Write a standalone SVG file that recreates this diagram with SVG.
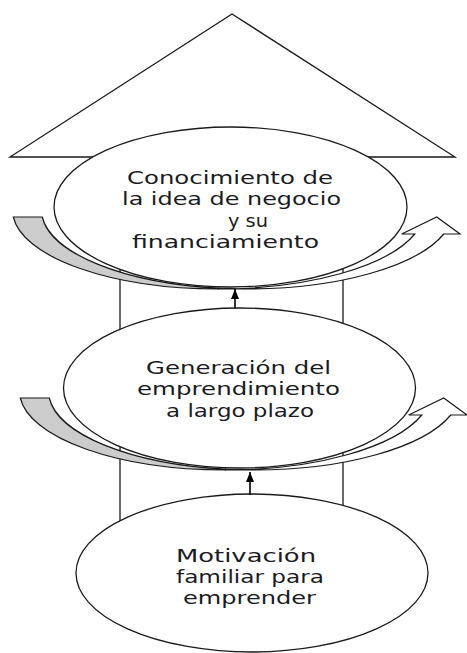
<svg xmlns="http://www.w3.org/2000/svg" width="467" height="653" viewBox="0 0 467 653">
  <defs>
    <style>
      .outline { fill: #ffffff; stroke: #1a1a1a; stroke-width: 1.3; }
      .node ellipse { fill: #ffffff; stroke: #1a1a1a; stroke-width: 1.3; }
      .dark { fill: #cccccc; stroke: #1a1a1a; stroke-width: 1.2; stroke-linejoin: miter; }
      .light { fill: #ffffff; stroke: #1a1a1a; stroke-width: 1.2; stroke-linejoin: miter; }
      .lbl { font-family: "DejaVu Sans", "Liberation Sans", sans-serif; font-size: 17.8px; fill: #1a1a22; text-anchor: start; }
      .conn { stroke: #000000; stroke-width: 1.6; fill: none; }
    </style>
    <marker id="head" viewBox="0 0 10 8" refX="10" refY="4" markerWidth="10" markerHeight="8" markerUnits="userSpaceOnUse" orient="auto">
      <path d="M0,0 L10,4 L0,8 Z" fill="#000000"/>
    </marker>
    <g id="curved">
      <path class="dark" d="M13.3,217 A206,79 0 0 0 218.5,289 L218.5,288.2 A206,79 0 0 1 42.3,217 Z"/>
      <path class="light" d="M218.5,289 A206,79 0 0 0 414.8,234 L401.7,234 L436.7,217 L460,234 L443.8,234 A206,79 0 0 1 247.5,289 A206,79 0 0 1 218.5,288.2 Z"/>
    </g>
  </defs>

  <g id="big-arrow">
    <path class="outline" d="M120,560 L120,157 L10,157 L232,14 L455,157 L343,157 L343,560 Z"/>
  </g>

  <g id="cycle-arrows">
    <use href="#curved"/>
    <use href="#curved" transform="translate(7,181)"/>
  </g>

  <g id="node-conocimiento" class="node">
    <ellipse cx="230.5" cy="207" rx="176.5" ry="80"/>
    <text class="lbl" x="127" y="184" textLength="206" lengthAdjust="spacingAndGlyphs">Conocimiento de</text>
    <text class="lbl" x="122" y="205" textLength="219" lengthAdjust="spacingAndGlyphs">la idea de negocio</text>
    <text class="lbl" x="228" y="227" textLength="40" lengthAdjust="spacingAndGlyphs">y su</text>
    <text class="lbl" x="132" y="248" textLength="187" lengthAdjust="spacingAndGlyphs">financiamiento</text>
  </g>

  <g id="node-generacion" class="node">
    <ellipse cx="239.5" cy="388" rx="176" ry="80"/>
    <text class="lbl" x="146" y="374" textLength="185" lengthAdjust="spacingAndGlyphs">Generación del</text>
    <text class="lbl" x="137" y="395" textLength="203" lengthAdjust="spacingAndGlyphs">emprendimiento</text>
    <text class="lbl" x="166" y="417" textLength="148" lengthAdjust="spacingAndGlyphs">a largo plazo</text>
  </g>

  <g id="node-motivacion" class="node">
    <ellipse cx="252" cy="573" rx="176" ry="79"/>
    <text class="lbl" x="176" y="562" textLength="140" lengthAdjust="spacingAndGlyphs">Motivación</text>
    <text class="lbl" x="176" y="583" textLength="148" lengthAdjust="spacingAndGlyphs">familiar para</text>
    <text class="lbl" x="183" y="604" textLength="133" lengthAdjust="spacingAndGlyphs">emprender</text>
  </g>

  <g id="connectors">
    <line class="conn" x1="235" y1="308" x2="235" y2="289" marker-end="url(#head)"/>
    <line class="conn" x1="250" y1="495" x2="250" y2="472" marker-end="url(#head)"/>
  </g>
</svg>
